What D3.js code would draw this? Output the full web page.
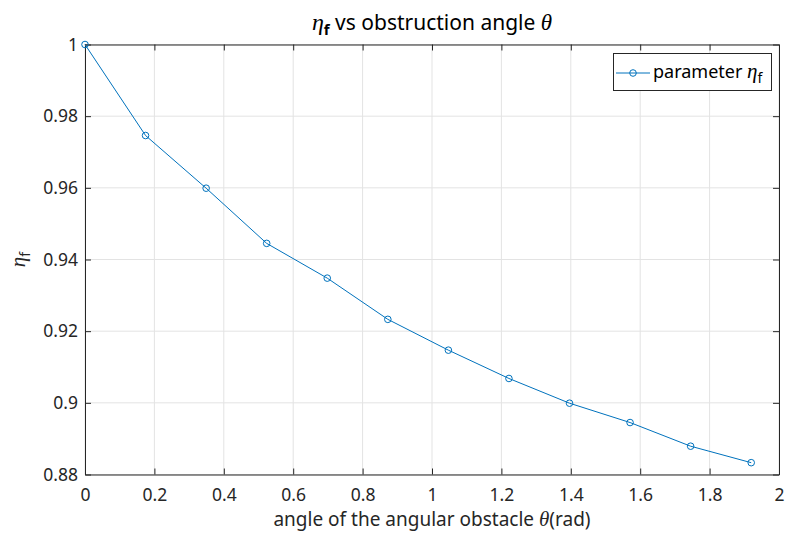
<!DOCTYPE html>
<html><head><meta charset="utf-8">
<script src="https://cdn.jsdelivr.net/npm/d3@7"></script>
<style>body{margin:0;background:#fff}svg{display:block}</style>
</head><body>
<svg id="c" width="789" height="541"></svg>
<script>
const thetaRad = [0, 0.1745, 0.3491, 0.5236, 0.6981, 0.8727, 1.0472, 1.2217, 1.3963, 1.5708, 1.7453, 1.9199];
const etaF = [1.0, 0.9746, 0.9599, 0.9445, 0.9348, 0.9233, 0.9147, 0.9068, 0.8999, 0.8945, 0.8879, 0.8833];
const xTicks = [0, 0.2, 0.4, 0.6, 0.8, 1, 1.2, 1.4, 1.6, 1.8, 2];
const yTicks = [0.88, 0.9, 0.92, 0.94, 0.96, 0.98, 1];

const svg = d3.select("#c");
const L = 85, R = 779, T = 44.5, B = 474.5;
const x = d3.scaleLinear().domain([0, 2]).range([L, R]);
const y = d3.scaleLinear().domain([0.88, 1]).range([B, T]);
const font = "'Noto Sans', 'Open Sans', sans-serif";
const mathFont = "'Liberation Serif', 'DejaVu Serif', serif";
const axCol = "#262626";
const blue = "#0072BD";

// grid
svg.append("g").selectAll("line").data(xTicks).join("line")
  .attr("x1", d => x(d)).attr("x2", d => x(d)).attr("y1", T).attr("y2", B)
  .attr("stroke", "#e3e3e3").attr("stroke-width", 1);
svg.append("g").selectAll("line").data(yTicks).join("line")
  .attr("y1", d => y(d)).attr("y2", d => y(d)).attr("x1", L).attr("x2", R)
  .attr("stroke", "#e3e3e3").attr("stroke-width", 1);

// axes
const fmt = d => String(+d.toFixed(2));
const styleAxis = g => {
  g.select(".domain").attr("stroke", axCol);
  g.selectAll(".tick line").attr("stroke", axCol);
  g.selectAll(".tick text").attr("fill", axCol).attr("font-family", font).attr("font-size", 17.5);
};
svg.append("g").attr("transform", `translate(0,${B})`)
  .call(d3.axisBottom(x).tickValues(xTicks).tickFormat(fmt).tickSizeInner(-6).tickSizeOuter(0))
  .call(styleAxis)
  .call(g => g.selectAll(".tick text").attr("dy", null).attr("y", 26));
svg.append("g").attr("transform", `translate(${L},0)`)
  .call(d3.axisLeft(y).tickValues(yTicks).tickFormat(fmt).tickSizeInner(-6).tickSizeOuter(0).tickPadding(7))
  .call(styleAxis);
svg.append("g").attr("transform", `translate(0,${T})`)
  .call(d3.axisTop(x).tickValues(xTicks).tickFormat("").tickSizeInner(-6).tickSizeOuter(0))
  .call(styleAxis);
svg.append("g").attr("transform", `translate(${R},0)`)
  .call(d3.axisRight(y).tickValues(yTicks).tickFormat("").tickSizeInner(-6).tickSizeOuter(0))
  .call(styleAxis);

// line + markers
const pts = thetaRad.map((t, i) => [t, etaF[i]]);
svg.append("path").datum(pts)
  .attr("d", d3.line().x(d => x(d[0])).y(d => y(d[1])))
  .attr("fill", "none").attr("stroke", blue).attr("stroke-width", 1);
svg.append("g").selectAll("circle").data(pts).join("circle")
  .attr("cx", d => x(d[0])).attr("cy", d => y(d[1])).attr("r", 3.3)
  .attr("fill", "none").attr("stroke", blue).attr("stroke-width", 1);

// title
const title = svg.append("text").attr("x", 432).attr("y", 30).attr("text-anchor", "middle")
  .attr("font-family", font).attr("font-size", 21).attr("fill", "#000");
title.append("tspan").attr("font-family", mathFont).attr("font-style", "italic").attr("font-size", 24).text("η");
title.append("tspan").attr("dy", 5).attr("font-size", 15).attr("font-weight", "bold").text("f");
title.append("tspan").attr("dy", -5).text(" vs obstruction angle ");
title.append("tspan").attr("font-family", mathFont).attr("font-style", "italic").attr("font-size", 23).text("θ");

// x label
const xl = svg.append("text").attr("x", 432).attr("y", 526).attr("text-anchor", "middle")
  .attr("font-family", font).attr("font-size", 19).attr("fill", axCol);
xl.append("tspan").text("angle of the angular obstacle ");
xl.append("tspan").attr("font-family", mathFont).attr("font-style", "italic").attr("font-size", 21).text("θ");
xl.append("tspan").text("(rad)");

// y label
const yl = svg.append("text").attr("transform", `translate(25,${(T + B) / 2}) rotate(-90)`)
  .attr("text-anchor", "middle").attr("font-family", font).attr("font-size", 18).attr("fill", axCol);
yl.append("tspan").attr("font-family", mathFont).attr("font-style", "italic").attr("font-size", 21).text("η");
yl.append("tspan").attr("dy", 5).attr("font-size", 14).text("f");

// legend
const lg = svg.append("g");
lg.append("rect").attr("x", 613.5).attr("y", 53.5).attr("width", 158).attr("height", 37)
  .attr("fill", "#fff").attr("stroke", axCol).attr("stroke-width", 1);
lg.append("line").attr("x1", 616).attr("x2", 650).attr("y1", 73).attr("y2", 73)
  .attr("stroke", blue).attr("stroke-width", 1);
lg.append("circle").attr("cx", 633).attr("cy", 73).attr("r", 3.3)
  .attr("fill", "none").attr("stroke", blue);
const lt = lg.append("text").attr("x", 653).attr("y", 78).attr("font-family", font)
  .attr("font-size", 18).attr("fill", "#000");
lt.append("tspan").text("parameter ");
lt.append("tspan").attr("font-family", mathFont).attr("font-style", "italic").attr("font-size", 21).text("η");
lt.append("tspan").attr("dy", 5).attr("font-size", 14).text("f");
</script>
</body></html>
